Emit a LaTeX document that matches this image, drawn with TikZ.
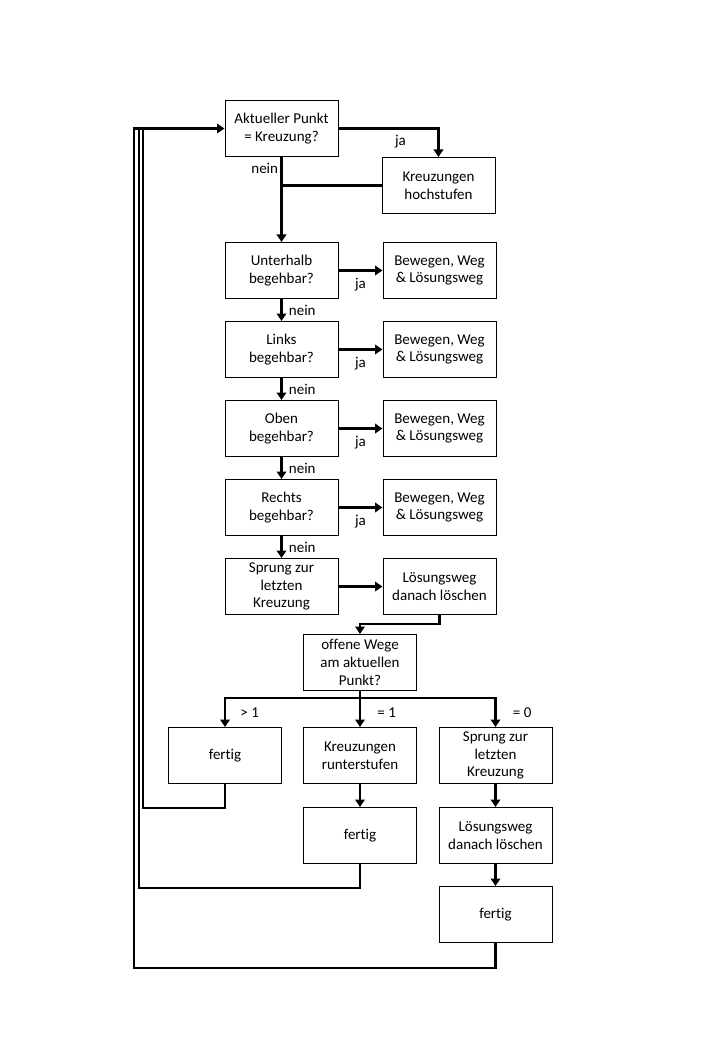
\documentclass[tikz,border=0pt]{standalone}
\usepackage{fontspec}
\setmainfont[Ligatures=NoCommon]{Carlito}
\usetikzlibrary{positioning,arrows.meta}

\begin{document}
\begin{tikzpicture}[
x=1pt, y=-1pt,
node distance=22pt and 44pt,
stepbox/.style={rectangle, draw=black, line width=1pt, minimum width=113pt, minimum height=56pt, align=center, inner xsep=2pt, inner ysep=1pt, font=\fontsize{15}{17.6}\selectfont},
flow/.style={line width=2.9pt, -{Triangle[length=7.5pt,width=9.5pt]}},
link/.style={line width=2.9pt, line cap=rect},
lbl/.style={font=\fontsize{15}{17.6}\selectfont, inner sep=2pt},
]
\useasboundingbox (0,0) rectangle (720,1040);

% Nodes
\node[stepbox] (akt) at (281.5,128.5) {Aktueller Punkt\\= Kreuzung?};
\node[stepbox, below right=0pt and 43pt of akt] (hoch) {Kreuzungen\\hochstufen};
\node[stepbox, below=85pt of akt] (unten) {Unterhalb\\begehbar?};
\node[stepbox, right=of unten] (bew1) {Bewegen, Weg\\\& Lösungsweg};
\node[stepbox, below=of unten] (links) {Links\\begehbar?};
\node[stepbox, right=of links] (bew2) {Bewegen, Weg\\\& Lösungsweg};
\node[stepbox, below=of links] (oben) {Oben\\begehbar?};
\node[stepbox, right=of oben] (bew3) {Bewegen, Weg\\\& Lösungsweg};
\node[stepbox, below=of oben] (rechts) {Rechts\\begehbar?};
\node[stepbox, right=of rechts] (bew4) {Bewegen, Weg\\\& Lösungsweg};
\node[stepbox, below=of rechts] (sprung) {Sprung zur\\letzten\\Kreuzung};
\node[stepbox, right=of sprung] (loesch) {Lösungsweg\\danach löschen};
\node[stepbox] (offen) at (360,662.5) {offene Wege\\am aktuellen\\Punkt?};
\node[stepbox] (fertig1) at (225,755.5) {fertig};
\node[stepbox] (runter) at (360,755.5) {Kreuzungen\\runterstufen};
\node[stepbox] (sprung2) at (495.5,755.5) {Sprung zur\\letzten\\Kreuzung};
\node[stepbox, below=23pt of runter] (fertig2) {fertig};
\node[stepbox, below=23pt of sprung2] (loesch2) {Lösungsweg\\danach löschen};
\node[stepbox, below=of loesch2] (fertig3) {fertig};

% Return points
\coordinate (ret1) at (143,128.5);
\coordinate (ret2) at (139,128.5);
\coordinate (ret3) at (134,128.5);

% Arrows
\draw[flow] (akt.east) -| node[lbl, pos=.31, below=3pt] {ja} (hoch.north);
\draw[flow] (akt.south) -- node[lbl, pos=.13, left] {nein} (unten.north);
\draw[link] (hoch.west) -- (hoch.west -| akt.south);

\foreach \a/\b in {unten/bew1, links/bew2, oben/bew3, rechts/bew4}
  \draw[flow] (\a.east) -- node[lbl, below=4pt] {ja} (\b.west);
\foreach \a/\b in {unten/links, links/oben, oben/rechts, rechts/sprung}
  \draw[flow] (\a.south) -- node[lbl, right=4pt] {nein} (\b.north);

\draw[flow] (sprung) -- (loesch);
\draw[flow] (loesch.south) -- ++(0,9) -| (offen.north);

\draw[link] (offen.south) -- ++(0,7) coordinate (split);
\draw[flow] (split) -| node[lbl, pos=.75, right=12pt] {> 1} (fertig1.north);
\draw[flow] (split) -- node[lbl, right=14pt] {= 1} (runter.north);
\draw[flow] (split) -| node[lbl, pos=.75, right=14pt] {= 0} (sprung2.north);

\draw[flow] (runter) -- (fertig2);
\draw[flow] (sprung2) -- (loesch2);
\draw[flow] (loesch2) -- (fertig3);

% Loops back
\draw[link] (fertig1.south) -- ++(0,24) -| (ret1);
\draw[link] (fertig2.south) -- ++(0,24) -| (ret2);
\draw[link] (fertig3.south) -- ++(0,25) -| (ret3);
\draw[flow] (ret3) -- (akt.west);

\end{tikzpicture}
\end{document}
